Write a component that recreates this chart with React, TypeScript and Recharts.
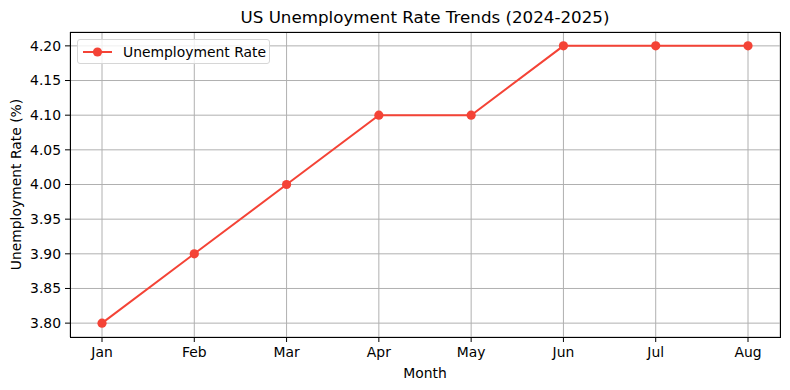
import React from "react";
import {
  LineChart,
  Line,
  XAxis,
  YAxis,
  CartesianGrid,
} from "recharts";

const months = ["Jan", "Feb", "Mar", "Apr", "May", "Jun", "Jul", "Aug"];
const rates = [3.8, 3.9, 4.0, 4.1, 4.1, 4.2, 4.2, 4.2];
const yTicks = [3.8, 3.85, 3.9, 3.95, 4.0, 4.05, 4.1, 4.15, 4.2];

const data = months.map((m, i) => ({ month: m, rate: rates[i] }));

const COLOR = "#f44336";
const FONT = "DejaVu Sans, sans-serif";

const PLOT = { left: 70, top: 32, right: 780, bottom: 337 };

const LegendBox = () => (
  <div
    style={{
      position: "absolute",
      left: 77,
      top: 39,
      width: 193,
      height: 25,
      boxSizing: "border-box",
      border: "1px solid #d6d6d6",
      borderRadius: 3,
      background: "rgba(255,255,255,0.8)",
      display: "flex",
      alignItems: "center",
      fontFamily: FONT,
      fontSize: 13.9,
      color: "#000",
    }}
  >
    <svg width={40} height={20} style={{ marginLeft: 4 }}>
      <line x1={1} y1={10} x2={30} y2={10} stroke={COLOR} strokeWidth={2} />
      <circle cx={15.5} cy={10} r={4.6} fill={COLOR} />
    </svg>
    <span style={{ marginLeft: 1 }}>Unemployment Rate</span>
  </div>
);

export default function App() {
  return (
    <div style={{ position: "absolute", left: 0, top: 0, width: 790, height: 390, background: "#fff" }}>
      <div
        style={{
          position: "absolute",
          top: 7,
          left: 0,
          width: 850,
          textAlign: "center",
          fontFamily: FONT,
          fontSize: 16.7,
          color: "#000",
        }}
      >
        US Unemployment Rate Trends (2024-2025)
      </div>
      <LineChart
        width={790}
        height={390}
        data={data}
        margin={{ top: 32, right: 10, left: 0, bottom: 0 }}
      >
        <CartesianGrid stroke="#b0b0b0" strokeWidth={1} />
        <XAxis
          dataKey="month"
          padding={{ left: 32, right: 32 }}
          height={53}
          tickLine={{ stroke: "#000" }}
          tickSize={5}
          axisLine={false}
          tick={{ fill: "#000", fontSize: 13.9, fontFamily: FONT, dy: 3 }}
          interval={0}
          label={{ value: "Month", position: "insideBottom", offset: 12, fill: "#000", fontSize: 13.9, fontFamily: FONT }}
        />
        <YAxis
          domain={[3.78, 4.22]}
          ticks={yTicks}
          width={70}
          tickFormatter={(v: number) => v.toFixed(2)}
          tickLine={{ stroke: "#000" }}
          tickSize={5}
          axisLine={false}
          tick={{ fill: "#000", fontSize: 13.9, fontFamily: FONT, dx: -2 }}
          interval={0}
          allowDataOverflow
          label={{
            value: "Unemployment Rate (%)",
            angle: -90,
            position: "insideLeft",
            offset: 16,
            style: { textAnchor: "middle" },
            fill: "#000",
            fontSize: 13.9,
            fontFamily: FONT,
          }}
        />
        <Line
          type="linear"
          dataKey="rate"
          stroke={COLOR}
          strokeWidth={2}
          dot={{ r: 4.6, fill: COLOR, stroke: COLOR, strokeWidth: 0 }}
          activeDot={false}
          isAnimationActive={false}
        />
      </LineChart>
      <div
        style={{
          position: "absolute",
          left: PLOT.left,
          top: PLOT.top,
          width: PLOT.right - PLOT.left + 1,
          height: PLOT.bottom - PLOT.top + 1,
          boxSizing: "border-box",
          border: "1px solid #000",
          pointerEvents: "none",
        }}
      />
      <LegendBox />
    </div>
  );
}
